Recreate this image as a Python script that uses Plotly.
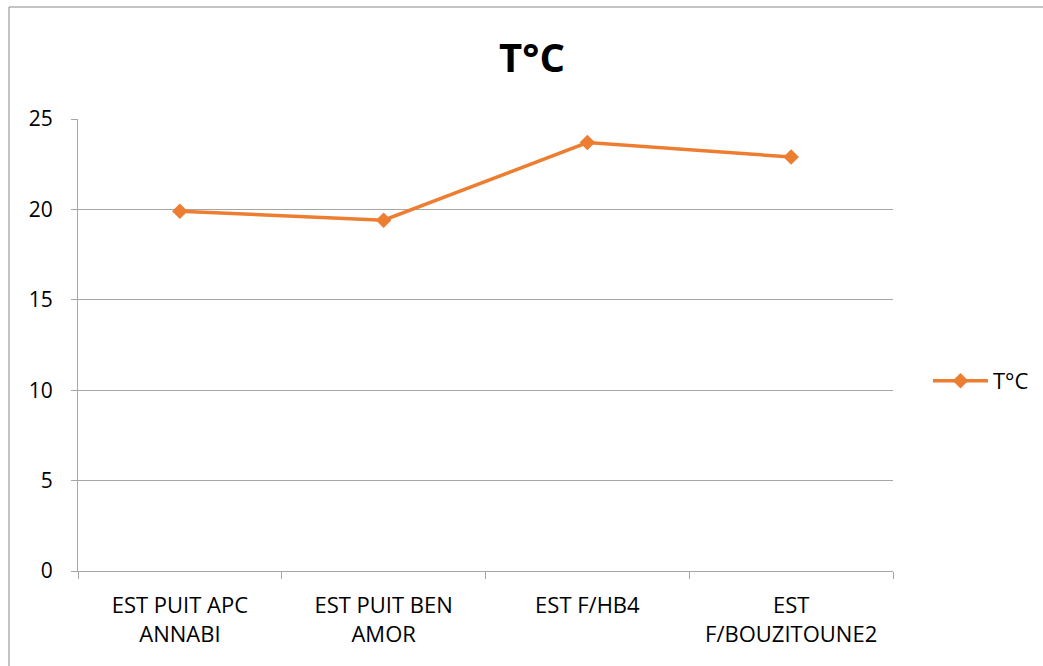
import plotly.graph_objects as go

categories = ["EST PUIT APC<br>ANNABI", "EST PUIT BEN<br>AMOR", "EST F/HB4", "EST<br>F/BOUZITOUNE2"]
values = [19.9, 19.4, 23.7, 22.9]
series_name = "T°C"
y_ticks = [0, 5, 10, 15, 20, 25]

W, H = 1043, 666
L, R, T, B = 78, 150, 119, 95
pw, ph = W - L - R, H - T - B

fig = go.Figure()
fig.add_trace(go.Scatter(
    x=categories, y=values, name=series_name, mode="lines+markers",
    line=dict(color="#ED7D31", width=3.5),
    marker=dict(symbol="diamond", size=12, color="#ED7D31"),
))

fnt = "Open Sans, Liberation Sans, sans-serif"
fig.update_layout(
    width=W, height=H,
    margin=dict(l=L, r=R, t=T, b=B, autoexpand=False),
    paper_bgcolor="white", plot_bgcolor="white",
    title=dict(text="<b>T°C</b>", x=532 / W, xanchor="center",
               y=1 - 58 / H, yanchor="middle",
               font=dict(family=fnt, size=40, color="black")),
    font=dict(family=fnt, size=22, color="black"),
    showlegend=True,
    legend=dict(xref="container", yref="container", x=928 / W, xanchor="left",
                y=1 - 381 / H, yanchor="middle",
                font=dict(size=22), itemwidth=55, bgcolor="rgba(0,0,0,0)"),
    xaxis=dict(type="category", showgrid=False, showline=True, linecolor="#A6A6A6", linewidth=1,
               ticks="outside", ticklen=7, tickcolor="#A6A6A6", tickson="boundaries",
               ticklabelstandoff=15, automargin=False,
               tickfont=dict(size=22), range=[-0.5, 3.5], fixedrange=True),
    yaxis=dict(range=[0, 25], tickvals=y_ticks, showgrid=True, gridcolor="#A6A6A6", gridwidth=1,
               showline=True, linecolor="#A6A6A6", linewidth=1, ticks="outside", ticklen=6,
               ticklabelstandoff=14, automargin=False,
               tickcolor="#A6A6A6", tickfont=dict(size=21), zeroline=False, fixedrange=True),
)

# outer chart border (extends beyond the captured window on right/bottom)
x0 = (9 - L) / pw
y1 = 1 + (T - 7) / ph
fig.add_shape(type="rect", xref="paper", yref="paper", x0=x0, x1=1 + (R + 5) / pw,
              y0=-(B + 5) / ph, y1=y1, line=dict(color="#898989", width=1), layer="below")

fig.write_html("out.html")
